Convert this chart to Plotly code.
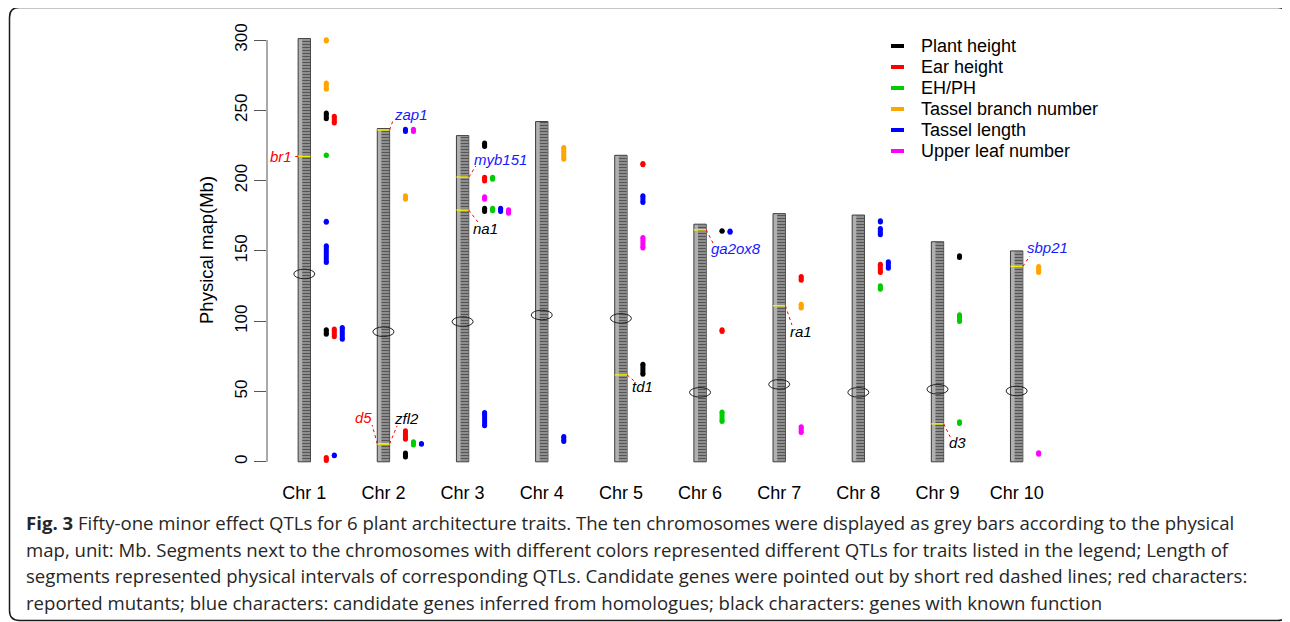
import plotly.graph_objects as go

# ---------------- data ----------------
chrom_names = ["Chr 1", "Chr 2", "Chr 3", "Chr 4", "Chr 5", "Chr 6", "Chr 7", "Chr 8", "Chr 9", "Chr 10"]
chrom_len = [301, 237, 232, 242, 218, 169, 176.5, 175.5, 156.5, 150]
centromere = [133.6, 92.5, 99.7, 104.4, 102, 49.4, 55.1, 49.4, 51.6, 50.4]

trait_codes = ["PH", "EH", "EHPH", "TBN", "TL", "ULN"]
trait_names = ["Plant height", "Ear height", "EH/PH", "Tassel branch number", "Tassel length", "Upper leaf number"]
trait_colors = ["#000000", "#ff0000", "#00cd00", "#ffa500", "#0000ff", "#ff00ff"]

# 51 QTLs: chromosome, column beside chromosome, trait, start (Mb), end (Mb)
qtl_chr = [1]*12 + [2]*7 + [3]*9 + [4]*2 + [5]*4 + [6]*4 + [7]*3 + [8]*5 + [9]*3 + [10]*2
qtl_col = [1, 1, 1, 2, 1, 1, 1, 1, 2, 3, 1, 2,
           1, 2, 1, 1, 2, 3, 1,
           1, 1, 2, 1, 1, 2, 3, 4, 1,
           1, 1,
           1, 1, 1, 1,
           1, 2, 1, 1,
           1, 1, 1,
           1, 1, 1, 2, 1,
           1, 1, 1,
           1, 1]
qtl_trait = ["TBN", "TBN", "PH", "EH", "EHPH", "TL", "TL", "PH", "EH", "TL", "EH", "TL",
             "TL", "ULN", "TBN", "EH", "EHPH", "TL", "PH",
             "PH", "EH", "EHPH", "ULN", "PH", "EHPH", "TL", "ULN", "TL",
             "TBN", "TL",
             "EH", "TL", "ULN", "PH",
             "PH", "TL", "EH", "EHPH",
             "EH", "TBN", "ULN",
             "TL", "TL", "EH", "TL", "EHPH",
             "PH", "EHPH", "EHPH",
             "TBN", "ULN"]
qtl_start = [299.3, 265.0, 244.0, 241.0, 217.8, 170.3, 141.7, 90.7, 89.0, 87.1, 1.0, 4.3,
             235.0, 235.0, 186.8, 16.0, 12.0, 12.5, 3.5,
             224.2, 199.8, 200.9, 186.7, 178.0, 178.5, 178.0, 176.8, 25.6,
             215.2, 14.5,
             211.2, 184.4, 152.0, 62.3,
             163.9, 163.2, 92.6, 28.7,
             129.2, 109.3, 20.9,
             170.5, 161.5, 134.7, 137.7, 122.8,
             145.3, 99.8, 27.3,
             134.7, 5.3]
qtl_end = [300.1, 269.5, 248.0, 245.7, 218.2, 171.1, 153.7, 94.0, 94.4, 95.6, 3.0, 4.9,
           236.5, 236.5, 189.2, 22.0, 14.3, 13.0, 6.2,
           226.7, 202.3, 202.3, 188.6, 180.4, 180.4, 180.4, 179.2, 35.0,
           223.5, 18.0,
           212.1, 189.2, 159.5, 69.4,
           164.4, 164.1, 94.0, 35.5,
           131.8, 112.1, 24.9,
           171.4, 165.9, 140.5, 142.2, 125.2,
           146.5, 104.5, 28.4,
           138.9, 6.5]

# candidate genes
gene_names = ["br1", "zap1", "d5", "zfl2", "myb151", "na1", "td1", "ga2ox8", "ra1", "d3", "sbp21"]
gene_chr = [1, 2, 2, 2, 3, 3, 5, 6, 7, 9, 10]
gene_pos = [217.3, 236.0, 12.8, 12.8, 202.5, 179.0, 61.8, 165.0, 111.0, 27.0, 139.0]
gene_class = ["mutant", "homolog", "mutant", "known", "homolog", "known", "known", "homolog", "known", "known", "homolog"]
class_colors = {"mutant": "#ff0000", "homolog": "#1a1aff", "known": "#000000"}

# label placement (layout)
gene_side = [-1, 1, -1, 1, 1, 1, 1, 1, 1, 1, 1]
label_x = [0.706, 2.35, 1.747, 2.293, 3.478, 3.294, 5.269, 6.455, 7.274, 9.249, 10.395]
label_y = [216.8, 247.2, 31.2, 30.9, 215.1, 166.1, 53.9, 151.4, 93.0, 13.4, 152.3]
leader_x = [0.857, 2.118, 1.857, 2.172, 3.168, 3.193, 5.168, 6.164, 7.161, 9.161, 10.168]
leader_y = [216.8, 242.3, 26.2, 25.5, 210.4, 170.6, 57.5, 155.6, 97.3, 17.6, 146.4]

caption_lines = [
    "<b>Fig. 3</b> Fifty-one minor effect QTLs for 6 plant architecture traits. The ten chromosomes were displayed as grey bars according to the physical",
    "map, unit: Mb. Segments next to the chromosomes with different colors represented different QTLs for traits listed in the legend; Length of",
    "segments represented physical intervals of corresponding QTLs. Candidate genes were pointed out by short red dashed lines; red characters:",
    "reported mutants; blue characters: candidate genes inferred from homologues; black characters: genes with known function",
]

# ---------------- layout geometry (screen pixels; page body has an 8px margin) ----------------
OFF = 8
W, H = 1290 - OFF, 622 - OFF
PL, PR, PT, PB = 267, 1100, 22, 480   # plot area in screen pixels
X0 = 1 - (304.3 - PL) / 79.15
X1 = 1 + (PR - 304.3) / 79.15
Y1 = 300 + (40 - PT) / 1.406
Y0 = -(PB - 461.8) / 1.406


def xp(px):
    return (px - PL) / (PR - PL)


def yp(py):
    return (PB - py) / (PB - PT)


FONT = "Liberation Sans, Arial, sans-serif"
HALF = 0.078
COL0 = 0.278
COLSTEP = 0.101

fig = go.Figure()
idx = list(range(1, len(chrom_names) + 1))

# chromosomes
fig.add_trace(go.Bar(x=idx, y=chrom_len, base=0, width=2 * HALF,
                     marker=dict(color="#b0b0b0", line=dict(color="#3c3c3c", width=1)),
                     showlegend=False, hoverinfo="skip"))
fig.add_trace(go.Bar(x=idx, y=[v - 0.8 for v in chrom_len], base=0.4, width=0.1, offset=-0.026,
                     marker=dict(color="#6a6a6a",
                                 pattern=dict(shape="-", fgcolor="#1c1c1c", bgcolor="#8e8e8e", size=3, solidity=0.35),
                                 line=dict(width=0)),
                     showlegend=False, hoverinfo="skip"))

# gene position marks on chromosomes (yellow)
gx, gy = [], []
for c, p in zip(gene_chr, gene_pos):
    gx += [c - HALF, c + HALF, None]
    gy += [p, p, None]
fig.add_trace(go.Scatter(x=gx, y=gy, mode="lines", line=dict(color="#f0f000", width=1.5),
                         showlegend=False, hoverinfo="skip"))

# red dotted leader lines
lx, ly = [], []
for c, p, s, ax, ay in zip(gene_chr, gene_pos, gene_side, leader_x, leader_y):
    lx += [c + s * HALF, ax, None]
    ly += [p, ay, None]
fig.add_trace(go.Scatter(x=lx, y=ly, mode="lines", line=dict(color="#ff0000", width=1, dash="dot"),
                         showlegend=False, hoverinfo="skip"))

# QTL segments
for code, name, col in zip(trait_codes, trait_names, trait_colors):
    sx, sy = [], []
    for c, k, t, s, e in zip(qtl_chr, qtl_col, qtl_trait, qtl_start, qtl_end):
        if t != code:
            continue
        xx = c + COL0 + (k - 1) * COLSTEP
        sx += [xx, xx, None]
        sy += [s, e, None]
    fig.add_trace(go.Scatter(x=sx, y=sy, mode="lines+markers",
                             line=dict(color=col, width=5),
                             marker=dict(color=col, size=5, line=dict(width=0)),
                             showlegend=False, name=name))

# legend (drawn manually to match the compact R legend)
for i, (name, col) in enumerate(zip(trait_names, trait_colors)):
    ry = 46 + i * 21
    fig.add_shape(type="line", xref="paper", yref="paper", x0=xp(891), x1=xp(904), y0=yp(ry), y1=yp(ry),
                  line=dict(color=col, width=4))
    fig.add_annotation(x=xp(919), y=yp(ry), xref="paper", yref="paper", text=name, xanchor="left",
                       yanchor="middle", showarrow=False, font=dict(family=FONT, size=18, color="#000"))

# centromeres
for c, cen in zip(idx, centromere):
    fig.add_shape(type="circle", xref="x", yref="y", x0=c - 0.133, x1=c + 0.133,
                  y0=cen - 3.4, y1=cen + 3.4, line=dict(color="#222222", width=1))

# y axis line (0..300)
fig.add_shape(type="line", xref="paper", yref="y", x0=0, x1=0, y0=0, y1=300,
              line=dict(color="#555555", width=1))

# gene labels
for n, cl, x, y in zip(gene_names, gene_class, label_x, label_y):
    fig.add_annotation(x=x, y=y, xref="x", yref="y", text="<i>%s</i>" % n, showarrow=False,
                       font=dict(family=FONT, size=15, color=class_colors[cl]))

# y title
fig.add_annotation(x=xp(206), y=yp(250), xref="paper", yref="paper", text="Physical map(Mb)",
                   textangle=-90, showarrow=False, xanchor="center", yanchor="middle",
                   font=dict(family=FONT, size=18.5, color="#000"))

# caption
for i, line in enumerate(caption_lines):
    fig.add_annotation(x=xp(24), y=yp(522.7 + i * 26.6), xref="paper", yref="paper", text=line,
                       xanchor="left", yanchor="middle", showarrow=False,
                       font=dict(family="Open Sans, sans-serif", size=18.6, color="#262626"))

# outer rounded frame
x0f, x1f, y0f, y1f, r = 9.5, 1287.5, 7.5, 620.5, 10


def P(px, py):
    return "%.5f,%.5f" % (xp(px), yp(py))


path = ("M " + P(x0f + r, y0f) + " L " + P(x1f - r, y0f) + " Q " + P(x1f, y0f) + " " + P(x1f, y0f + r) +
        " L " + P(x1f, y1f - r) + " Q " + P(x1f, y1f) + " " + P(x1f - r, y1f) +
        " L " + P(x0f + r, y1f) + " Q " + P(x0f, y1f) + " " + P(x0f, y1f - r) +
        " L " + P(x0f, y0f + r) + " Q " + P(x0f, y0f) + " " + P(x0f + r, y0f) + " Z")
fig.add_shape(type="path", xref="paper", yref="paper", path=path,
              line=dict(color="#1a1a1a", width=1.5), fillcolor="rgba(0,0,0,0)")

fig.update_layout(
    width=W, height=H,
    margin=dict(l=PL - OFF, r=1290 - PR, t=PT - OFF, b=622 - PB, pad=0),
    paper_bgcolor="white", plot_bgcolor="white",
    barmode="overlay",
    font=dict(family=FONT, color="#000"),
    xaxis=dict(range=[X0, X1], tickvals=idx, ticktext=chrom_names, showgrid=False, zeroline=False,
               showline=False, ticks="", tickfont=dict(size=18, family=FONT, color="#000")),
    yaxis=dict(range=[Y0, Y1], tickvals=[0, 50, 100, 150, 200, 250, 300], showgrid=False, zeroline=False,
               showline=False, ticks="outside", ticklen=12, tickcolor="#555555", tickwidth=1,
               tickangle=-90, tickfont=dict(size=17, family=FONT, color="#000")),
    showlegend=False,
)

fig.write_html("out.html")
